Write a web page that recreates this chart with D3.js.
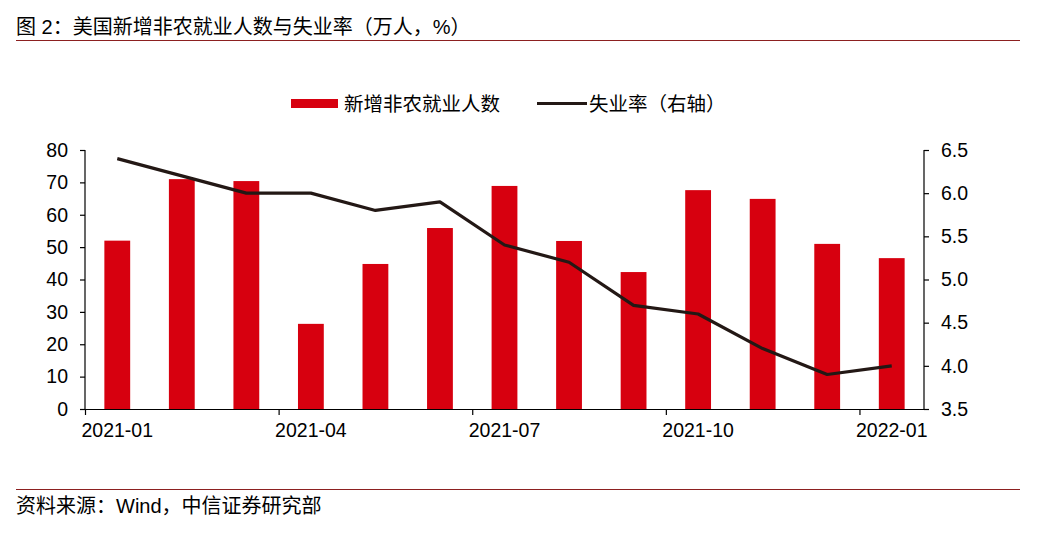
<!DOCTYPE html>
<html>
<head>
<meta charset="utf-8">
<script src="https://cdn.jsdelivr.net/npm/d3@7"></script>
<style>
  body { margin: 0; background: #fff; }
  svg { display: block; font-family: "Liberation Sans", Arial, "Noto Sans CJK SC", sans-serif; }
</style>
</head>
<body>
<svg id="chart" width="1037" height="536"></svg>
<script>
// data
var months = ["2021-01", "2021-02", "2021-03", "2021-04", "2021-05", "2021-06", "2021-07",
              "2021-08", "2021-09", "2021-10", "2021-11", "2021-12", "2022-01"];
var payrolls = [52, 71, 70.4, 26.3, 44.8, 55.9, 68.9, 51.9, 42.3, 67.6, 64.9, 51, 46.6];
var unemployment = [6.4, 6.2, 6.0, 6.0, 5.8, 5.9, 5.4, 5.2, 4.7, 4.6, 4.2, 3.9, 4.0];
var leftTicks = [0, 10, 20, 30, 40, 50, 60, 70, 80];
var rightTicks = [3.5, 4.0, 4.5, 5.0, 5.5, 6.0, 6.5];
var labelMonths = ["2021-01", "2021-04", "2021-07", "2021-10", "2022-01"];

var svg = d3.select("#chart");
var pLeft = 85, pRight = 924, pTop = 150, pBottom = 409;
var fs = 19.5;

var x = d3.scaleBand().domain(months).range([pLeft, pRight]).paddingInner(0).paddingOuter(0);
var yL = d3.scaleLinear().domain([0, 80]).range([pBottom, pTop]);
var yR = d3.scaleLinear().domain([3.5, 6.5]).range([pBottom, pTop]);

// title + rules
svg.append("text").attr("x", 16).attr("y", 34).attr("font-size", 20).attr("fill", "#000")
    .text("图 2：美国新增非农就业人数与失业率（万人，%）");
svg.append("line").attr("x1", 16).attr("x2", 1020).attr("y1", 40.5).attr("y2", 40.5)
    .attr("stroke", "#8c2020").attr("stroke-width", 1.2);
svg.append("line").attr("x1", 16).attr("x2", 1020).attr("y1", 489.5).attr("y2", 489.5)
    .attr("stroke", "#8c2020").attr("stroke-width", 1.2);
svg.append("text").attr("x", 16).attr("y", 513).attr("font-size", 20).attr("fill", "#000")
    .text("资料来源：Wind，中信证券研究部");

// legend
svg.append("rect").attr("x", 291).attr("y", 99).attr("width", 47).attr("height", 9).attr("fill", "#d7000f");
svg.append("text").attr("x", 344).attr("y", 111).attr("font-size", fs).text("新增非农就业人数");
svg.append("line").attr("x1", 537).attr("x2", 587).attr("y1", 103.5).attr("y2", 103.5)
    .attr("stroke", "#231815").attr("stroke-width", 3);
svg.append("text").attr("x", 589).attr("y", 111).attr("font-size", fs).text("失业率（右轴）");

// bars
var bw = x.bandwidth() * 0.4;
svg.append("g").selectAll("rect").data(payrolls).enter().append("rect")
    .attr("x", function(d, i) { return x(months[i]) + (x.bandwidth() - bw) / 2; })
    .attr("y", function(d) { return yL(d); })
    .attr("width", bw)
    .attr("height", function(d) { return yL(0) - yL(d); })
    .attr("fill", "#d7000f");

// line
var line = d3.line()
    .x(function(d, i) { return x(months[i]) + x.bandwidth() / 2; })
    .y(function(d) { return yR(d); });
svg.append("path").datum(unemployment).attr("d", line)
    .attr("fill", "none").attr("stroke", "#231815").attr("stroke-width", 3.2)
    .attr("stroke-linejoin", "round");

// axes
var axL = svg.append("g").attr("transform", "translate(" + pLeft + ",0)")
    .call(d3.axisLeft(yL).tickValues(leftTicks).tickSize(5).tickPadding(12));
var axR = svg.append("g").attr("transform", "translate(" + pRight + ",0)")
    .call(d3.axisRight(yR).tickValues(rightTicks).tickSize(5).tickPadding(12).tickFormat(d3.format(".1f")));
var axB = svg.append("g").attr("transform", "translate(0," + pBottom + ")");
axB.append("line").attr("x1", pLeft - 5).attr("x2", pRight + 5).attr("y1", 0.5).attr("y2", 0.5)
    .attr("stroke", "#000").attr("stroke-width", 1.2);
axB.selectAll("line.tick").data(labelMonths).enter().append("line").attr("class", "tick")
    .attr("x1", function(d) { return x(d) + 0.5; }).attr("x2", function(d) { return x(d) + 0.5; })
    .attr("y1", 0).attr("y2", 6).attr("stroke", "#000").attr("stroke-width", 1.2);
axB.selectAll("text").data(labelMonths).enter().append("text")
    .attr("x", function(d) { return x(d) + x.bandwidth() / 2; })
    .attr("y", 28).attr("text-anchor", "middle").attr("font-size", fs).attr("fill", "#000")
    .text(function(d) { return d; });

[axL, axR].forEach(function(ax) {
    ax.attr("font-family", null).attr("font-size", null);
    ax.selectAll("text").attr("font-size", fs).attr("fill", "#000");
    ax.selectAll("line").attr("stroke", "#000").attr("stroke-width", 1.2);
    ax.select(".domain").attr("stroke", "#000").attr("stroke-width", 1.2)
        .attr("d", "M0," + pTop + "V" + pBottom);
});
</script>
</body>
</html>
